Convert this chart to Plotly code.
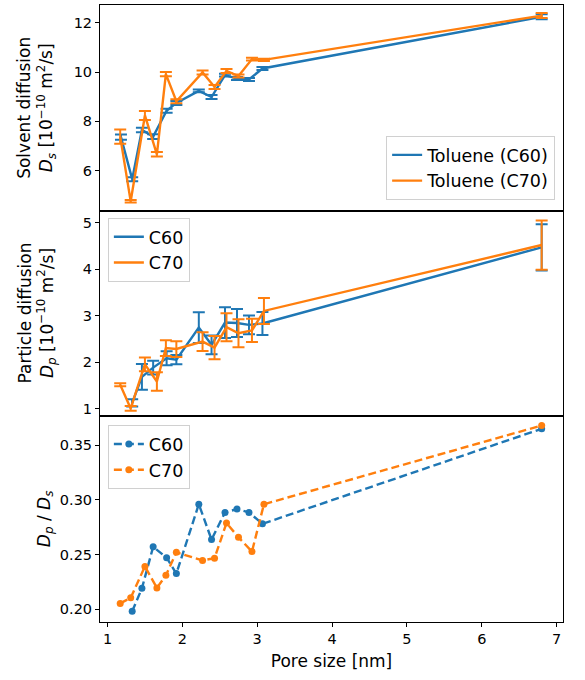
import plotly.graph_objects as go
from plotly.subplots import make_subplots

# ---------------- data ----------------
pore_c60 = [1.18, 1.33, 1.46, 1.61, 1.79, 1.92, 2.22, 2.39, 2.57, 2.73, 2.89, 3.07, 6.80]
pore_c70 = [1.17, 1.31, 1.50, 1.66, 1.78, 1.92, 2.27, 2.43, 2.59, 2.75, 2.93, 3.09, 6.80]

Ds_c60 = [7.36, 5.65, 7.65, 7.38, 8.43, 8.75, 9.24, 8.99, 9.88, 9.74, 9.70, 10.15, 12.25]
Ds_c60_err = [0.11, 0.08, 0.09, 0.10, 0.08, 0.08, 0.06, 0.08, 0.06, 0.06, 0.06, 0.06, 0.10]
Ds_c70 = [7.38, 4.75, 8.24, 6.66, 9.92, 8.82, 9.99, 9.40, 10.05, 9.84, 10.53, 10.50, 12.30]
Ds_c70_err = [0.29, 0.05, 0.18, 0.09, 0.09, 0.08, 0.08, 0.08, 0.08, 0.06, 0.06, 0.05, 0.10]

pore_c60_p = [1.33, 1.46, 1.61, 1.79, 1.92, 2.22, 2.39, 2.57, 2.73, 2.89, 3.07, 6.80]
Dp_c60 = [1.12, 1.68, 1.88, 2.08, 2.05, 2.74, 2.37, 2.85, 2.84, 2.80, 2.83, 4.47]
Dp_c60_err = [0.08, 0.28, 0.15, 0.15, 0.10, 0.33, 0.20, 0.33, 0.30, 0.20, 0.25, 0.50]
Dp_c70 = [1.51, 1.00, 1.95, 1.58, 2.30, 2.28, 2.44, 2.31, 2.75, 2.62, 2.68, 3.10, 4.52]
Dp_c70_err = [0.03, 0.05, 0.15, 0.20, 0.17, 0.17, 0.20, 0.25, 0.30, 0.30, 0.25, 0.28, 0.53]

ratio_c60 = [0.198, 0.219, 0.257, 0.247, 0.2325, 0.296, 0.2636, 0.2885, 0.2915, 0.2885, 0.278, 0.365]
ratio_c70 = [0.2052, 0.2103, 0.239, 0.2194, 0.2309, 0.252, 0.2445, 0.2466, 0.2788, 0.2657, 0.2527, 0.296, 0.368]

x_ticks = [1, 2, 3, 4, 5, 6, 7]

BLUE = "#1f77b4"
ORANGE = "#ff7f0e"
FONT = "DejaVu Sans"
TICK_FS = 14.5
LAB_FS = 17
LEG_FS = 17.5

fig = make_subplots(rows=3, cols=1, shared_xaxes=True, vertical_spacing=0)


def eb(vals, color):
    return dict(type="data", array=vals, visible=True, color=color,
                thickness=2, width=6)


fig.add_trace(go.Scatter(x=pore_c60, y=Ds_c60, mode="lines", name="Toluene (C60)",
                         line=dict(color=BLUE, width=2.4), error_y=eb(Ds_c60_err, BLUE),
                         legend="legend"), row=1, col=1)
fig.add_trace(go.Scatter(x=pore_c70, y=Ds_c70, mode="lines", name="Toluene (C70)",
                         line=dict(color=ORANGE, width=2.4), error_y=eb(Ds_c70_err, ORANGE),
                         legend="legend"), row=1, col=1)

fig.add_trace(go.Scatter(x=pore_c60_p, y=Dp_c60, mode="lines", name="C60",
                         line=dict(color=BLUE, width=2.4), error_y=eb(Dp_c60_err, BLUE),
                         legend="legend2"), row=2, col=1)
fig.add_trace(go.Scatter(x=pore_c70, y=Dp_c70, mode="lines", name="C70",
                         line=dict(color=ORANGE, width=2.4), error_y=eb(Dp_c70_err, ORANGE),
                         legend="legend2"), row=2, col=1)

fig.add_trace(go.Scatter(x=pore_c60_p, y=ratio_c60, mode="lines+markers", name="C60",
                         line=dict(color=BLUE, width=2.4, dash="8px,4px"),
                         marker=dict(color=BLUE, size=7), legend="legend3"), row=3, col=1)
fig.add_trace(go.Scatter(x=pore_c70, y=ratio_c70, mode="lines+markers", name="C70",
                         line=dict(color=ORANGE, width=2.4, dash="8px,4px"),
                         marker=dict(color=ORANGE, size=7), legend="legend3"), row=3, col=1)

axis_common = dict(showline=True, mirror=True, linecolor="black", linewidth=1,
                   showgrid=False, zeroline=False, ticks="outside", ticklen=4,
                   tickcolor="black", tickwidth=1,
                   tickfont=dict(family=FONT, size=TICK_FS, color="black"))

for r in (1, 2, 3):
    fig.update_xaxes(range=[0.9, 7.085], tickvals=x_ticks, row=r, col=1, **axis_common)
    fig.update_yaxes(row=r, col=1, **axis_common)

fig.update_xaxes(ticks="", showticklabels=False, row=1, col=1)
fig.update_xaxes(ticks="", showticklabels=False, row=2, col=1)
fig.update_xaxes(title=dict(text="Pore size [nm]", font=dict(family=FONT, size=LAB_FS, color="black"),
                            standoff=8), row=3, col=1)

fig.update_yaxes(range=[4.37, 12.73], tickvals=[6, 8, 10, 12], row=1, col=1)
fig.update_yaxes(range=[0.83, 5.26], tickvals=[1, 2, 3, 4, 5], row=2, col=1)
fig.update_yaxes(range=[0.1882, 0.3764], tickvals=[0.20, 0.25, 0.30, 0.35],
                 tickformat=".2f", row=3, col=1)

legend_common = dict(bgcolor="rgba(255,255,255,0.8)", bordercolor="#d0d0d0", borderwidth=1,
                     font=dict(family=FONT, size=LEG_FS, color="black"),
                     tracegroupgap=0)

fig.update_layout(
    width=585, height=680,
    margin=dict(l=100, r=22, t=5, b=58),
    paper_bgcolor="white", plot_bgcolor="white",
    font=dict(family=FONT, color="black"),
    legend=dict(x=0.983, y=0.684, xanchor="right", yanchor="bottom", **legend_common),
    legend2=dict(x=0.017, y=0.655, xanchor="left", yanchor="top", **legend_common),
    legend3=dict(x=0.017, y=0.319, xanchor="left", yanchor="top", **legend_common),
)

ylabels = [
    ("Solvent diffusion<br><i>D</i><sub><i>s</i></sub> [10<sup>−10</sup> m<sup>2</sup>/s]", 5 / 6, -63),
    ("Particle diffusion<br><i>D</i><sub><i>p</i></sub> [10<sup>−10</sup> m<sup>2</sup>/s]", 0.5, -63),
    ("<i>D</i><sub><i>p</i></sub> / <i>D</i><sub><i>s</i></sub>", 1 / 6, -55),
]
for text, yy, xs in ylabels:
    fig.add_annotation(text=text, xref="paper", yref="paper", x=0, y=yy,
                       xanchor="center", yanchor="middle", xshift=xs, textangle=-90,
                       showarrow=False, font=dict(family=FONT, size=LAB_FS, color="black"))

fig.write_html("out.html")
